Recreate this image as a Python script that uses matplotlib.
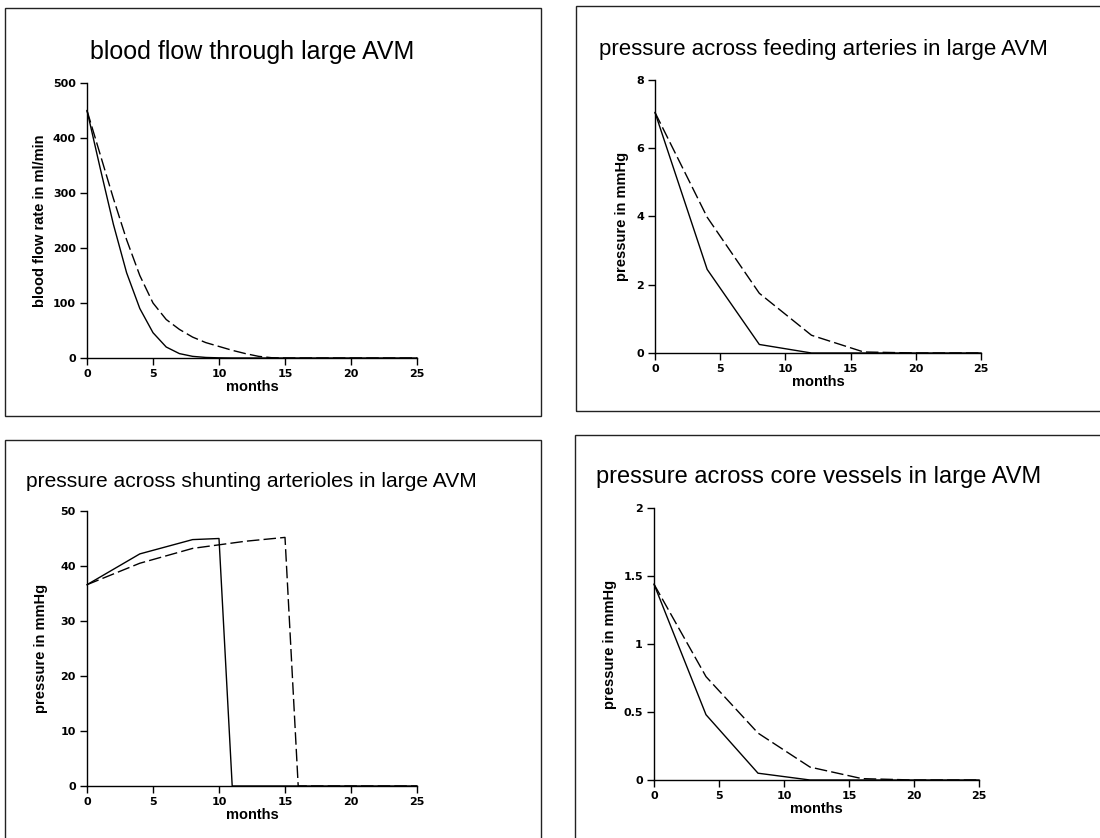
import matplotlib
matplotlib.use("Agg")
import matplotlib.pyplot as plt
from matplotlib.patches import Rectangle

plt.rcParams['font.family'] = ['Liberation Sans', 'DejaVu Sans']
plt.rcParams['font.weight'] = 'bold'

W, H = 1100, 838

# ---------------- data ----------------
flow_months = list(range(0, 26))
flow_solid = [450, 345, 243, 155, 90, 46, 20, 8, 3, 1, 0.3] + [0] * 15
flow_dashed = [450, 370, 290, 215, 150, 100, 70, 52, 38, 28, 21, 14, 8, 3, 0.5] + [0] * 11

feed_months = [0, 4, 8, 12, 16, 20, 25]
feed_solid = [7.05, 2.45, 0.25, 0, 0, 0, 0]
feed_dashed = [7.05, 3.98, 1.75, 0.52, 0.03, 0, 0]

shunt_months_solid = [0, 4, 8, 10, 11, 25]
shunt_solid = [36.6, 42.2, 44.8, 45.0, 0, 0]
shunt_months_dashed = [0, 4, 8, 12, 15, 16, 25]
shunt_dashed = [36.6, 40.5, 43.2, 44.5, 45.2, 0, 0]

core_months = [0, 4, 8, 12, 16, 20, 25]
core_solid = [1.44, 0.48, 0.05, 0, 0, 0, 0]
core_dashed = [1.44, 0.76, 0.345, 0.095, 0.01, 0, 0]

x_ticks = [0, 5, 10, 15, 20, 25]
flow_yticks = [0, 100, 200, 300, 400, 500]
feed_yticks = [0, 2, 4, 6, 8]
shunt_yticks = [0, 10, 20, 30, 40, 50]
core_yticks = [0, 0.5, 1, 1.5, 2]
core_yticklabels = ['0', '0.5', '1', '1.5', '2']

titles = ["blood flow through large AVM",
          "pressure across feeding arteries in large AVM",
          "pressure across shunting arterioles in large AVM",
          "pressure across core vessels in large AVM"]
ylabels = ["blood flow rate in ml/min", "pressure in mmHg",
           "pressure in mmHg", "pressure in mmHg"]
xlabel = "months"

# ---------------- figure ----------------
fig = plt.figure(figsize=(W / 100, H / 100), dpi=100)


def fx(px):
    return px / W


def fy(py):
    return 1 - py / H


# panel boxes (pixels: x0, y0, x1, y1)
boxes = [(5, 8, 541, 416), (576, 6, 1115, 411), (5, 440, 541, 850), (575, 435, 1115, 850)]
for (x0, y0, x1, y1) in boxes:
    fig.add_artist(Rectangle((fx(x0), fy(y1)), fx(x1 - x0), (y1 - y0) / H,
                             transform=fig.transFigure, fill=False,
                             edgecolor='#222222', linewidth=1.0))

# axes rects in pixels: x0 (value 0), x25, y0 (value 0), ytop
ax_px = [(87, 417, 358, 83), (655, 981, 353, 80), (87, 417, 786, 511), (654, 979, 780, 508)]
axes = []
for (xl, xr, yb, yt) in ax_px:
    ax = fig.add_axes([fx(xl), fy(yb), (xr - xl) / W, (yb - yt) / H])
    axes.append(ax)

ylims = [500, 8, 50, 2]
yticks = [flow_yticks, feed_yticks, shunt_yticks, core_yticks]
ylab_x = [-0.121, -0.08, -0.117, -0.114]

dash = (9, 3)
lw = 1.0

axes[0].plot(flow_months, flow_solid, color='black', lw=lw, clip_on=False)
axes[0].plot(flow_months, flow_dashed, color='black', lw=lw, dashes=dash, clip_on=False)
axes[1].plot(feed_months, feed_solid, color='black', lw=lw, clip_on=False)
axes[1].plot(feed_months, feed_dashed, color='black', lw=lw, dashes=dash, clip_on=False)
axes[2].plot(shunt_months_solid, shunt_solid, color='black', lw=lw, clip_on=False)
axes[2].plot(shunt_months_dashed, shunt_dashed, color='black', lw=lw, dashes=dash, clip_on=False)
axes[3].plot(core_months, core_solid, color='black', lw=lw, clip_on=False)
axes[3].plot(core_months, core_dashed, color='black', lw=lw, dashes=dash, clip_on=False)

for i, ax in enumerate(axes):
    ax.set_xlim(0, 25)
    ax.set_ylim(0, ylims[i])
    ax.set_xticks(x_ticks)
    ax.set_yticks(yticks[i])
    if i == 3:
        ax.set_yticklabels(core_yticklabels)
    for s in ['top', 'right']:
        ax.spines[s].set_visible(False)
    for s in ['left', 'bottom']:
        ax.spines[s].set_linewidth(1.0)
    ax.tick_params(direction='out', length=5, width=1.0, labelsize=8, pad=3)
    for lbl in ax.get_xticklabels() + ax.get_yticklabels():
        lbl.set_fontweight('bold')
        lbl.set_family(['DejaVu Sans'])
    ax.set_ylabel(ylabels[i], fontsize=10.5, fontweight='bold')
    ax.yaxis.set_label_coords(ylab_x[i], 0.5)
    ax.set_xlabel(xlabel, fontsize=10.5, fontweight='bold')
    hpx = ax_px[i][2] - ax_px[i][3]
    ax.xaxis.set_label_coords(0.5, -29 / hpx)
    ax.xaxis.label.set_va('center')
    ax.patch.set_alpha(0)

# titles (pixel positions of baselines)
fig.text(fx(252), fy(59), titles[0], fontsize=18, fontweight='normal', ha='center', va='baseline')
fig.text(fx(599), fy(55), titles[1], fontsize=16, fontweight='normal', ha='left', va='baseline')
fig.text(fx(26), fy(487), titles[2], fontsize=15.1, fontweight='normal', ha='left', va='baseline')
fig.text(fx(596), fy(483), titles[3], fontsize=17, fontweight='normal', ha='left', va='baseline')

fig.savefig('out.png', dpi=100)
